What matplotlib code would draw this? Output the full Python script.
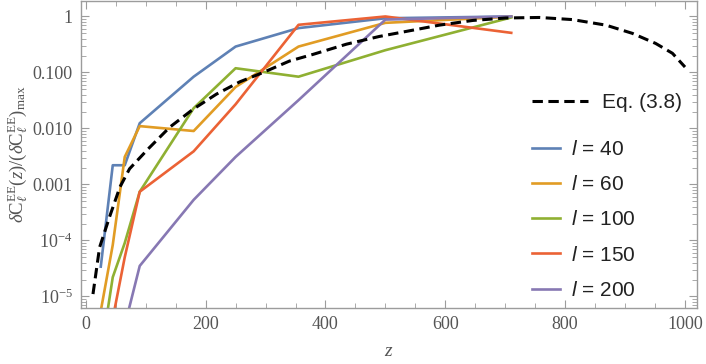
import matplotlib
matplotlib.use("Agg")
import matplotlib.pyplot as plt
from matplotlib.ticker import FixedLocator, FixedFormatter, LogLocator, NullFormatter
import numpy as np

# simulation redshifts
z_sim = [25, 45, 65, 90, 180, 250, 355, 500, 710]

# normalised dC_l^EE for each multipole (nan = not shown)
l40 = [3.4e-5, 2.2e-3, 2.2e-3, 1.24e-2, 0.084, 0.29, 0.62, 0.93, 1.0]
l60 = [5.5e-6, 8.3e-5, 3.1e-3, 1.1e-2, 9.0e-3, 0.055, 0.29, 0.77, 0.99]
l100 = [9e-7, 2.2e-5, 9e-5, 7.4e-4, 0.023, 0.119, 0.084, 0.25, 0.96]
l150 = [np.nan, 4e-6, 5e-5, 7.4e-4, 0.0039, 0.027, 0.71, 1.0, 0.51]
l200 = [np.nan, np.nan, 3e-6, 3.5e-5, 5.3e-4, 3.1e-3, 0.032, 0.88, 1.0]

series_labels = ["40", "60", "100", "150", "200"]
colors = ["#5E81B5", "#E19C24", "#8FB032", "#EB6235", "#8778B3"]

# Eq. (3.8) curve
z_eq = [12, 23, 40, 57, 73, 104, 140, 179, 218, 257, 296, 340, 379, 435,
        490, 546, 590, 646, 701, 757, 812, 868, 912, 951, 979, 1000]
eq = [1.1e-5, 7.5e-5, 2.7e-4, 9e-4, 1.9e-3, 4.3e-3, 1.05e-2, 0.022, 0.041,
      0.068, 0.10, 0.16, 0.21, 0.32, 0.44, 0.57, 0.70, 0.85, 0.94, 0.96,
      0.88, 0.70, 0.50, 0.33, 0.22, 0.125]

ytick_vals = [1, 0.1, 0.01, 0.001, 1e-4, 1e-5]
ytick_text = ["1", "0.100", "0.010", "0.001", r"$10^{-4}$", r"$10^{-5}$"]

plt.rcParams["font.family"] = ["Liberation Serif", "DejaVu Serif"]
plt.rcParams["mathtext.fontset"] = "custom"
plt.rcParams["mathtext.rm"] = "Liberation Serif"
plt.rcParams["mathtext.it"] = "Liberation Serif:italic"
plt.rcParams["mathtext.bf"] = "Liberation Sans:italic"

frame_col = "#9c9c9c"
text_col = "#555555"

fig = plt.figure(figsize=(7.06, 3.64), dpi=100)
ax = fig.add_axes([81 / 706, 1 - 308 / 364, 616 / 706, 307 / 364])

handles = []
for vals, lab, c in zip([l40, l60, l100, l150, l200], series_labels, colors):
    h, = ax.plot(z_sim, vals, color=c, lw=1.9, label=r"$\mathbf{l}$ = " + lab)
    handles.append(h)

heq, = ax.plot(z_eq, eq, color="black", lw=2.2, dashes=(3.4, 1.8), label="Eq. (3.8)")

ax.set_yscale("log")
ax.set_xlim(-8, 1020)
ax.set_ylim(6.2e-6, 1.89)

ax.xaxis.set_major_locator(FixedLocator([0, 200, 400, 600, 800, 1000]))
ax.xaxis.set_minor_locator(FixedLocator(np.arange(0, 1001, 50)))
ax.yaxis.set_major_locator(FixedLocator(ytick_vals))
ax.yaxis.set_major_formatter(FixedFormatter(ytick_text))
ax.yaxis.set_minor_locator(LogLocator(base=10, subs=np.arange(2, 10)))
ax.yaxis.set_minor_formatter(NullFormatter())

ax.tick_params(which="both", direction="in", top=True, right=True,
               color=frame_col, labelcolor=text_col, labelsize=13, pad=6)
ax.tick_params(which="major", length=6, width=0.8)
ax.tick_params(which="minor", length=3.5, width=0.6)
for s in ax.spines.values():
    s.set_color(frame_col)
    s.set_linewidth(1.0)

ax.set_xlabel(r"$z$", fontsize=14, color=text_col, labelpad=7)
ax.set_ylabel(r"$\delta\mathrm{C}_\ell^{\mathrm{EE}}(z)/(\delta\mathrm{C}_\ell^{\mathrm{EE}})_{\mathrm{max}}$",
              fontsize=13.5, color=text_col, labelpad=2)

leg_font = {"family": "Liberation Sans", "size": 15}
leg1 = ax.legend([heq], ["Eq. (3.8)"], loc="center left", bbox_to_anchor=(0.732, 0.668),
                 frameon=False, prop=leg_font, handlelength=2.7, handletextpad=0.65,
                 borderpad=0, borderaxespad=0)
for t in leg1.get_texts():
    t.set_color("#222222")
ax.add_artist(leg1)
leg2 = ax.legend(handles, [h.get_label() for h in handles], loc="center left",
                 bbox_to_anchor=(0.732, 0.287), frameon=False, prop=leg_font,
                 handlelength=1.35, handletextpad=0.55, labelspacing=0.78,
                 borderpad=0, borderaxespad=0)
for t in leg2.get_texts():
    t.set_color("#222222")

fig.savefig("out.png", dpi=100)
